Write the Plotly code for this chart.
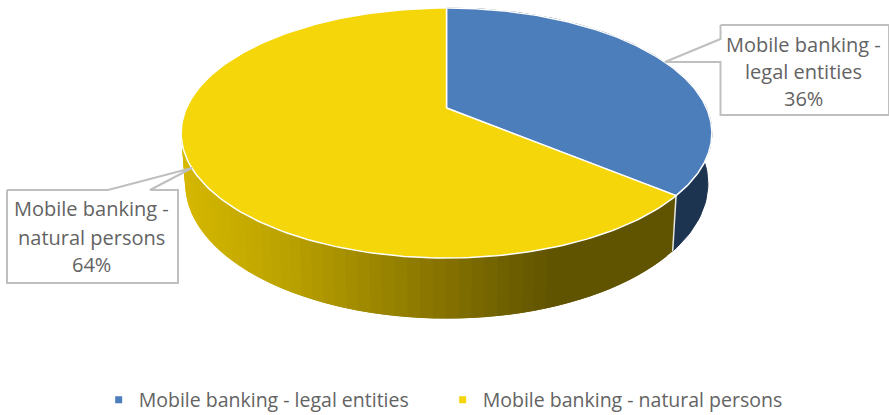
import numpy as np
import plotly.graph_objects as go

categories = ["Mobile banking - legal entities", "Mobile banking - natural persons"]
label_lines = [["Mobile banking -", "legal entities"], ["Mobile banking -", "natural persons"]]
values = [36, 64]

BLUE, YELLOW, BLUE_SIDE = "#4d7ebc", "#f4d60a", "#1c3450"
GREY, TEXT = "#bfbfbf", "#636363"
FONT = "Open Sans"
FS = 20
CANVAS_H = 440  # taller than the window so the legend fits without pushing the plot area

# perspective projection of the pie, in pixels of the canvas
CX, CY, R, P, A, DEPTH, BOTTOM = 446.5, 108, 260, 0.2, 98.4, 48.5, 0.985


def rim(theta, lower=False):
    u, v = np.sin(theta), np.cos(theta)
    d = 1 + P * v
    if lower:
        return CX + BOTTOM * R * u / d, (CY - A * v) / d + DEPTH / d
    return CX + R * u / d, (CY - A * v) / d


fractions = np.array(values) / sum(values)
edges = np.concatenate([[0], np.cumsum(fractions)]) * 2 * np.pi
fig = go.Figure()


def poly(x, y, fill, line=None, width=1):
    fig.add_trace(go.Scatter(x=list(x), y=list(y), mode="lines", fill="toself", fillcolor=fill,
                             line=dict(color=line or fill, width=width), hoverinfo="skip", showlegend=False))


def side_color(x):
    stops_x = [185, 300, 430, 560, 680]
    r = np.interp(x, stops_x, [0xd6, 0xb8, 0x8c, 0x60, 0x60])
    g = np.interp(x, stops_x, [0xb8, 0xa0, 0x78, 0x54, 0x54])
    return f"rgb({int(r)},{int(g)},0)"


# side wall of the first slice
t = np.linspace(edges[0], edges[1], 80)
xt, yt = rim(t)
xb, yb = rim(t[::-1], True)
poly(np.r_[xt, xb], np.r_[yt, yb], BLUE_SIDE)

# side wall of the second slice, shaded in overlapping strips
strips = np.linspace(edges[1], 1.6 * np.pi, 70)
for k in range(len(strips) - 1):
    seg = strips[k:k + 3]
    xt, yt = rim(seg)
    xb, yb = rim(seg[::-1], True)
    poly(np.r_[xt, xb], np.r_[yt, yb], side_color(xt[0]), width=0)

# white edge between the two walls
xe0, ye0 = rim(edges[1])
xe1, ye1 = rim(edges[1], True)
fig.add_trace(go.Scatter(x=[xe0, xe1], y=[ye0, ye1], mode="lines", line=dict(color="#e8e8e0", width=1.5),
                         hoverinfo="skip", showlegend=False))

# top faces
for i, color in enumerate([BLUE, YELLOW]):
    t = np.linspace(edges[i], edges[i + 1], 200)
    x, y = rim(t)
    poly(np.r_[CX, x, CX], np.r_[CY, y, CY], color, "#ffffff", 1.5)

# callouts
boxes = [
    dict(x0=720.5, x1=889, y0=25, y1=115, tip=(665, 62), a=(720.5, 39), b=(720.5, 62)),
    dict(x0=7, x1=178, y0=190, y1=283, tip=(192, 168), a=(108, 190), b=(150, 190)),
]
bx = boxes[0]
poly([bx["x0"], bx["a"][0], bx["tip"][0], bx["b"][0], bx["x0"], bx["x1"], bx["x1"], bx["x0"]],
     [bx["y0"], bx["a"][1], bx["tip"][1], bx["b"][1], bx["y1"], bx["y1"], bx["y0"], bx["y0"]],
     "#ffffff", GREY, 2)
bx = boxes[1]
poly([bx["x0"], bx["a"][0], bx["tip"][0], bx["b"][0], bx["x1"], bx["x1"], bx["x0"], bx["x0"]],
     [bx["y0"], bx["a"][1], bx["tip"][1], bx["b"][1], bx["y0"], bx["y1"], bx["y1"], bx["y0"]],
     "#ffffff", GREY, 2)

for bx, lines, val, tops, cx in zip(boxes, label_lines, values, [(44, 71, 98), (208, 237, 264)], [803.5, 91.5]):
    for text, y in zip(lines + [f"{val}%"], tops):
        fig.add_annotation(x=cx, y=y, text=text, showarrow=False,
                           font=dict(family=FONT, size=FS, color=TEXT), xref="x", yref="y")

# legend
for name, color in zip(categories, [BLUE, YELLOW]):
    fig.add_trace(go.Scatter(x=[None], y=[None], mode="markers", name=name,
                             marker=dict(symbol="square", size=7, color=color)))

fig.update_layout(
    width=889, height=CANVAS_H, margin=dict(l=0, r=0, t=0, b=0),
    paper_bgcolor="white", plot_bgcolor="white",
    xaxis=dict(range=[0, 889], visible=False, fixedrange=True),
    yaxis=dict(range=[CANVAS_H, 0], visible=False, fixedrange=True),
    legend=dict(orientation="h", x=0.111, y=(CANVAS_H - 400) / CANVAS_H,
                xanchor="left", yanchor="middle",
                font=dict(family=FONT, size=19.5, color=TEXT), entrywidth=299, entrywidthmode="pixels",
                bgcolor="rgba(0,0,0,0)", tracegroupgap=0),
)
fig.write_html("out.html", config={"displayModeBar": False},
               post_script="document.body.style.margin='0';document.body.style.overflow='hidden';")
